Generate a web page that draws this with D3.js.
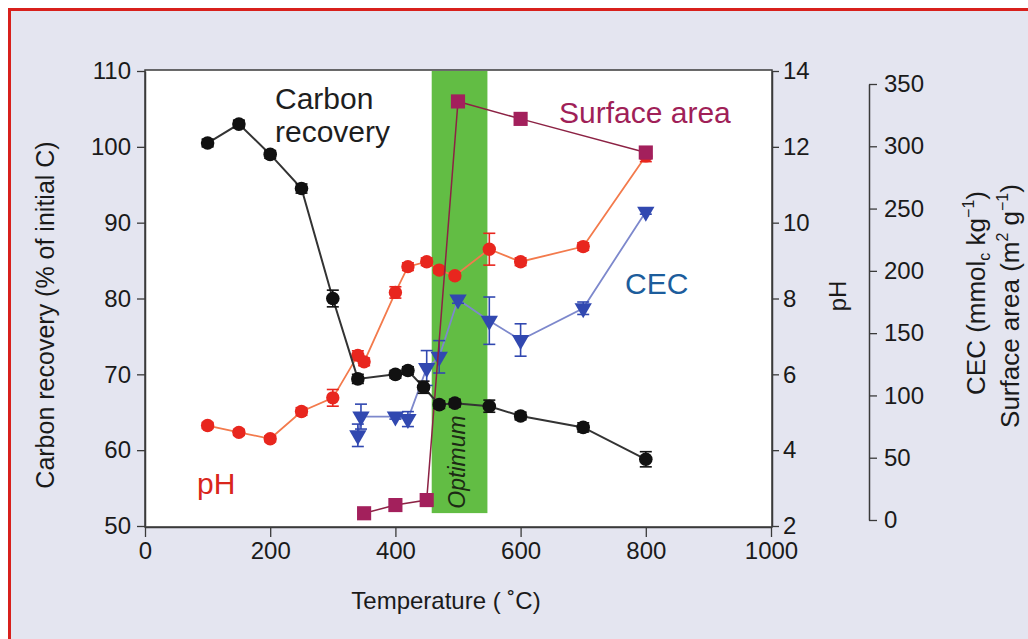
<!DOCTYPE html>
<html>
<head>
<meta charset="utf-8">
<script src="https://cdn.jsdelivr.net/npm/d3@7"></script>
<style>
  body { margin: 0; background: #ffffff; }
  svg { display: block; font-family: "Liberation Sans", Arial, Helvetica, sans-serif; }
</style>
</head>
<body>
<div id="chart"></div>
<script>
// temperatures and values
const carbonTemps = [100, 150, 200, 250, 300, 340, 400, 420, 445, 470, 495, 550, 600, 700, 800];
const carbonValues = [100.5, 103, 99, 94.5, 80, 69.4, 70, 70.5, 68.3, 66, 66.2, 65.8, 64.5, 63, 58.8];
const carbonErr = [0.5, 0.5, 0.5, 0.6, 1.1, 0.6, 0.5, 0.5, 0.8, 0.5, 0.5, 0.8, 0.5, 0.6, 1.0];

const phTemps = [100, 150, 200, 250, 300, 340, 350, 400, 420, 450, 470, 495, 550, 600, 700, 800];
const phValues = [4.65, 4.47, 4.3, 5.02, 5.38, 6.5, 6.33, 8.16, 8.84, 8.97, 8.75, 8.6, 9.3, 8.97, 9.37, 11.76];
const phErr = [0.08, 0.08, 0.08, 0.1, 0.22, 0.12, 0.1, 0.15, 0.1, 0.1, 0.08, 0.08, 0.42, 0.1, 0.1, 0.15];

const cecTemps = [340, 345, 400, 420, 450, 470, 500, 550, 600, 700, 800];
const cecValues = [68, 83, 83, 81, 122, 131, 177, 160, 144.5, 170, 247.5];
const cecErr = [9, 10, 2, 6, 14, 13, 3, 19, 13, 5, 2];

const surfaceTemps = [350, 400, 450, 500, 600, 800];
const surfaceValues = [5.4, 12, 16, 336, 322, 295];

const optimumTemps = [458, 547];
const optimumCarbon = [51.7, 110];

const xTicks = [0, 200, 400, 600, 800, 1000];
const carbonTicks = [50, 60, 70, 80, 90, 100, 110];
const phTicks = [2, 4, 6, 8, 10, 12, 14];
const cecTicks = [0, 50, 100, 150, 200, 250, 300, 350];

const W = 1028, H = 639;
const svg = d3.select('#chart').append('svg').attr('width', W).attr('height', H);

// red framed panel
svg.append('rect')
  .attr('x', 9.5).attr('y', 9.5).attr('width', W + 10).attr('height', H + 10)
  .attr('fill', '#e4e5f0').attr('stroke', '#d8201c').attr('stroke-width', 3);

const x = d3.scaleLinear().domain([0, 1000]).range([145, 771]);
const yC = d3.scaleLinear().domain([50, 110]).range([526, 71]);
const yPH = d3.scaleLinear().domain([2, 14]).range([526, 71]);
const y3 = d3.scaleLinear().domain([0, 350]).range([520, 84]);

const plotLeft = 145, plotRight = 772, plotTop = 70, plotBottom = 527;

svg.append('rect')
  .attr('x', plotLeft).attr('y', plotTop).attr('width', plotRight - plotLeft).attr('height', plotBottom - plotTop)
  .attr('fill', '#ffffff');

// optimum band
svg.append('rect')
  .attr('x', x(optimumTemps[0])).attr('width', x(optimumTemps[1]) - x(optimumTemps[0]))
  .attr('y', yC(optimumCarbon[1])).attr('height', yC(optimumCarbon[0]) - yC(optimumCarbon[1]))
  .attr('fill', '#62bd44');

svg.append('text')
  .attr('transform', `translate(${x(optimumTemps[0]) + 33},462) rotate(-90)`)
  .attr('text-anchor', 'middle')
  .attr('font-size', 23).attr('font-style', 'italic')
  .attr('fill', '#1c2a14')
  .text('Optimum');

// frame lines
svg.append('rect')
  .attr('x', plotLeft).attr('y', plotTop).attr('width', plotRight - plotLeft).attr('height', plotBottom - plotTop)
  .attr('fill', 'none').attr('stroke', '#3a3a3a').attr('stroke-width', 1.5);

function styleAxis(g) {
  g.selectAll('path').attr('stroke', '#3a3a3a').attr('stroke-width', 1.5);
  g.selectAll('line').attr('stroke', '#3a3a3a').attr('stroke-width', 1.3);
  g.selectAll('text').attr('font-size', 24).attr('fill', '#1a1a1a')
    .attr('font-family', '"Liberation Sans", Arial, sans-serif');
}

svg.append('g').attr('transform', `translate(0,${plotBottom})`)
  .call(d3.axisBottom(x).tickValues(xTicks).tickFormat(d3.format('d'))
    .tickSize(10).tickPadding(5).tickSizeOuter(0))
  .call(styleAxis);

svg.append('g').attr('transform', `translate(${plotLeft},0)`)
  .call(d3.axisLeft(yC).tickValues(carbonTicks).tickSize(8).tickPadding(6).tickSizeOuter(0))
  .call(styleAxis);

svg.append('g').attr('transform', `translate(${plotRight},0)`)
  .call(d3.axisRight(yPH).tickValues(phTicks).tickSize(7).tickPadding(4).tickSizeOuter(0))
  .call(styleAxis);

svg.append('g').attr('transform', 'translate(869,0)')
  .call(d3.axisRight(y3).tickValues(cecTicks).tickSize(8).tickPadding(7).tickSizeOuter(0))
  .call(styleAxis);

// axis titles
svg.append('text')
  .attr('x', 446).attr('y', 609).attr('text-anchor', 'middle')
  .attr('font-size', 24).attr('fill', '#1a1a1a')
  .text('Temperature ( \u02DAC)');

svg.append('text')
  .attr('transform', 'translate(54,315) rotate(-90)').attr('text-anchor', 'middle')
  .attr('font-size', 25).attr('fill', '#1a1a1a')
  .text('Carbon recovery (% of initial C)');

svg.append('text')
  .attr('transform', 'translate(846,296) rotate(-90)').attr('text-anchor', 'middle')
  .attr('font-size', 24).attr('fill', '#1a1a1a')
  .text('pH');

const cecTitle = svg.append('text')
  .attr('transform', 'translate(985,293) rotate(-90)').attr('text-anchor', 'middle')
  .attr('font-size', 26).attr('fill', '#1a1a1a');
cecTitle.append('tspan').text('CEC (mmol');
cecTitle.append('tspan').attr('font-size', 16).attr('dy', 5).text('c');
cecTitle.append('tspan').attr('dy', -5).text(' kg');
cecTitle.append('tspan').attr('font-size', 16).attr('dy', -11).text('\u22121');
cecTitle.append('tspan').attr('dy', 11).text(')');

const saTitle = svg.append('text')
  .attr('transform', 'translate(1019,306) rotate(-90)').attr('text-anchor', 'middle')
  .attr('font-size', 26).attr('fill', '#1a1a1a');
saTitle.append('tspan').text('Surface area (m');
saTitle.append('tspan').attr('font-size', 16).attr('dy', -11).text('2');
saTitle.append('tspan').attr('dy', 11).text(' g');
saTitle.append('tspan').attr('font-size', 16).attr('dy', -11).text('\u22121');
saTitle.append('tspan').attr('dy', 11).text(')');

// series helpers
function drawSeries(temps, values, errs, yScale, opts) {
  const pts = temps.map((t, i) => ({ t: t, v: values[i], e: errs ? errs[i] : 0 }));
  const line = d3.line().x(d => x(d.t)).y(d => yScale(d.v));
  const g = svg.append('g');
  g.append('path').datum(pts)
    .attr('d', line).attr('fill', 'none')
    .attr('stroke', opts.line).attr('stroke-width', opts.lineWidth);
  if (errs) {
    const eb = g.selectAll('.eb').data(pts.filter(d => d.e > 0)).enter().append('g')
      .attr('stroke', opts.marker).attr('stroke-width', 1.6);
    eb.append('line')
      .attr('x1', d => x(d.t)).attr('x2', d => x(d.t))
      .attr('y1', d => yScale(d.v - d.e)).attr('y2', d => yScale(d.v + d.e));
    eb.append('line')
      .attr('x1', d => x(d.t) - 6).attr('x2', d => x(d.t) + 6)
      .attr('y1', d => yScale(d.v - d.e)).attr('y2', d => yScale(d.v - d.e));
    eb.append('line')
      .attr('x1', d => x(d.t) - 6).attr('x2', d => x(d.t) + 6)
      .attr('y1', d => yScale(d.v + d.e)).attr('y2', d => yScale(d.v + d.e));
  }
  g.selectAll('.pt').data(pts).enter().append('path')
    .attr('transform', d => `translate(${x(d.t)},${yScale(d.v)})${opts.rotate ? ' rotate(180)' : ''}`)
    .attr('d', d3.symbol().type(opts.symbol).size(opts.size))
    .attr('fill', opts.marker);
}

drawSeries(phTemps, phValues, phErr, yPH,
  { line: '#f37a4c', lineWidth: 1.8, marker: '#e8261e', symbol: d3.symbolCircle, size: 140 });
drawSeries(cecTemps, cecValues, cecErr, y3,
  { line: '#7d88cc', lineWidth: 1.8, marker: '#3148b0', symbol: d3.symbolTriangle, size: 130, rotate: true });
drawSeries(surfaceTemps, surfaceValues, null, y3,
  { line: '#8c2244', lineWidth: 1.5, marker: '#a3205c', symbol: d3.symbolSquare, size: 200 });
drawSeries(carbonTemps, carbonValues, carbonErr, yC,
  { line: '#333333', lineWidth: 2, marker: '#111111', symbol: d3.symbolCircle, size: 145 });

// series labels
const labels = svg.append('g').attr('font-size', 30);
const cl = labels.append('text').attr('x', 275).attr('fill', '#1e1e1e');
cl.append('tspan').attr('x', 275).attr('y', 109).text('Carbon');
cl.append('tspan').attr('x', 275).attr('y', 142).text('recovery');
labels.append('text').attr('x', 559).attr('y', 123).attr('fill', '#a01f58').text('Surface area');
labels.append('text').attr('x', 625).attr('y', 294).attr('fill', '#1c5d9c').text('CEC');
labels.append('text').attr('x', 197).attr('y', 494).attr('fill', '#d9261c').text('pH');
</script>
</body>
</html>
